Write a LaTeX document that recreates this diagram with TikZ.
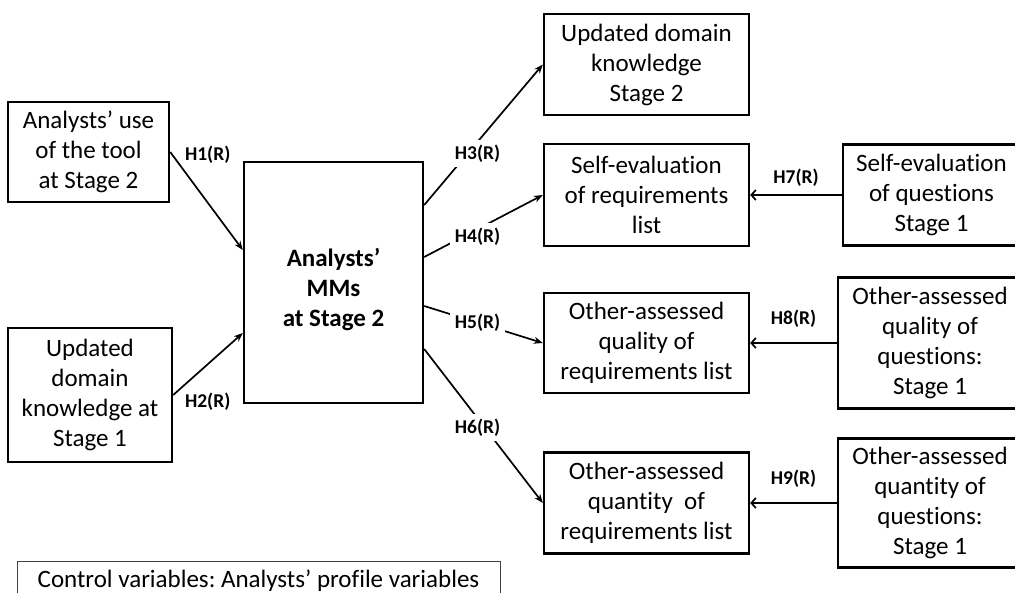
\documentclass[tikz,border=0pt]{standalone}
\usepackage{fontspec}
\setmainfont[Ligatures=NoCommon]{Carlito}
\usetikzlibrary{arrows.meta,calc}
\frenchspacing
\begin{document}
\begin{tikzpicture}[x=1pt,y=-1pt,
 box/.style={draw, line width=2.4pt, align=center, font=\fontsize{25}{30}\selectfont, inner sep=0pt},
 hlab/.style={font=\bfseries\fontsize{19.5}{22}\selectfont, inner sep=0pt},
 hgap/.style={hlab, fill=white, inner sep=5pt},
 conn/.style={line width=1.7pt, -{Stealth[length=9pt,width=7pt]}},
 back/.style={line width=1.7pt, -{Straight Barb[length=4.5pt,width=10pt]}}]
\useasboundingbox (0,0) rectangle (1015,593);
\clip (0,0) rectangle (1015,593);
% left inputs
\node[box, minimum width=161pt, minimum height=100pt] (A) at (88.5,152) {Analysts’ use\\of the tool\\at Stage 2};
\node[box, minimum width=164pt, minimum height=134pt] (B) at (90,395) {Updated\\domain\\knowledge at\\Stage 1};
% centre
\node[box, minimum width=179pt, minimum height=241pt,
  label={[yshift=-7pt, align=center, inner sep=0pt, font=\bfseries\fontsize{25}{30}\selectfont]center:Analysts’\\MMs\\at Stage 2}] (M) at (333.5,282.5) {};
% outcomes
\node[box, minimum width=205pt, minimum height=101pt] (T) at (646.5,64.5) {Updated domain\\knowledge\\Stage 2};
\node[box, minimum width=205pt, minimum height=102pt] (SE) at (646.5,195) {Self-evaluation\\of requirements\\list};
\node[box, minimum width=205pt, minimum height=100pt] (OAQ) at (646.5,343) {Other-assessed\\quality of\\requirements list};
\node[box, minimum width=205pt, minimum height=101pt] (OAN) at (646.5,503) {Other-assessed\\quantity\ \ of\\requirements list};
% right column
\node[box, minimum width=177pt, minimum height=101pt] (SEq) at (931.5,195) {Self-evaluation\\of questions\\Stage 1};
\node[box, minimum width=184pt, minimum height=131pt] (OAQq) at (930,343) {Other-assessed\\quality of\\questions:\\Stage 1};
\node[box, minimum width=184pt, minimum height=129pt] (OANq) at (930,503) {Other-assessed\\quantity of\\questions:\\Stage 1};
% control
\node[draw=black!75, line width=1pt, minimum width=483pt, minimum height=40pt, inner sep=0pt, font=\fontsize{25}{30}\selectfont] (ctrl) at (258.5,581) {Control variables: Analysts’ profile variables};
% connectors
\draw[conn] (A.east) -- ([yshift=32.5pt]M.west) node[pos=0, anchor=west, hlab, xshift=14pt, yshift=-3pt] {H1(R)};
\draw[conn] (B.east) -- ([yshift=-50.5pt]M.west) node[pos=0, anchor=west, hlab, xshift=11pt, yshift=-7pt] {H2(R)};
\draw[conn] ([yshift=77.5pt]M.east) -- (T.west) node[pos=0.45, hgap, yshift=-12pt] {H3(R)};
\draw[conn] ([yshift=25.5pt]M.east) -- (SE.west) node[pos=0.45, hgap, yshift=-8pt] {H4(R)};
\draw[conn] ([yshift=-23.5pt]M.east) -- (OAQ.west) node[pos=0.45, hgap] {H5(R)};
\draw[conn] ([yshift=-66.5pt]M.east) -- (OAN.west) node[pos=0.45, hgap, yshift=-9pt] {H6(R)};
\draw[back] (SEq.west) -- (SE.east) node[midway, above=8pt, hlab] {H7(R)};
\draw[back] (OAQq.west) -- (OAQ.east) node[midway, above=15pt, hlab] {H8(R)};
\draw[back] (OANq.west) -- (OAN.east) node[midway, above=15pt, hlab] {H9(R)};
\end{tikzpicture}
\end{document}
